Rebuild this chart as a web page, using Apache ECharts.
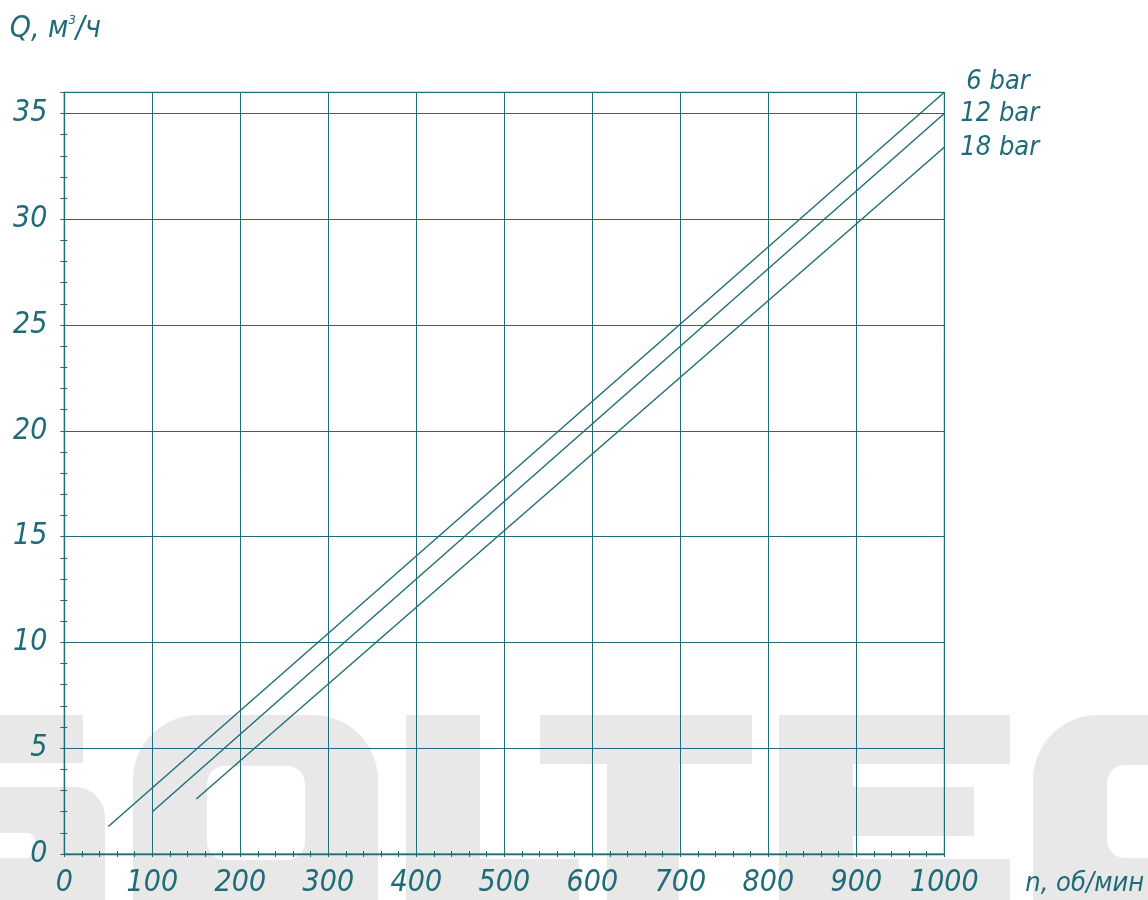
<!DOCTYPE html>
<html>
<head>
<meta charset="utf-8">
<script src="https://cdn.jsdelivr.net/npm/echarts@6/dist/echarts.min.js"></script>
<style>
html,body{margin:0;padding:0;background:#fff;}
#chart{width:1148px;height:900px;}
</style>
</head>
<body>
<div id="chart"></div>
<script>
// ---- data ----
const seriesNames = ['6 bar', '12 bar', '18 bar'];
const rpm6 = [50, 1000];
const flow6 = [1.3, 36.0];
const rpm12 = [100, 1000];
const flow12 = [2.0, 35.0];
const rpm18 = [150, 1000];
const flow18 = [2.6, 33.4];
const xTicks = [0, 100, 200, 300, 400, 500, 600, 700, 800, 900, 1000];
const yTicks = [0, 5, 10, 15, 20, 25, 30, 35];

const C = '#1f6b78';
const FONT = "'DejaVu Sans Condensed', Roboto, sans-serif";
const WM = '#e8e8e8';

function pairs(xs, ys) { return xs.map((x, i) => [x, ys[i]]); }

// watermark (decoration, letters S O L T E C)
function rect(x, y, w, h, r, fill) {
  return { type: 'rect', z: -10, silent: true, shape: { x, y, width: w, height: h, r: r || 0 }, style: { fill: fill || WM } };
}
const wm = [
  rect(-20, 715, 103, 48),
  rect(-20, 787, 125, 200, [0, 30, 0, 0]),
  rect(-20, 833, 55, 25, [0, 8, 8, 0], '#fff'),
  rect(133, 715, 245, 300, 65),
  rect(207, 766, 98, 94, 18, '#fff'),
  rect(406, 715, 74, 300),
  rect(406, 859, 173, 200),
  rect(540, 715, 212, 49),
  rect(607, 715, 72, 300),
  rect(779, 715, 74, 300),
  rect(779, 715, 231, 49),
  rect(779, 787, 195, 49),
  rect(779, 859, 231, 200),
  rect(1033, 715, 300, 300, 65),
  rect(1107, 765, 250, 93, [18, 0, 0, 18], '#fff')
];

const labelStyle = { color: C, fontFamily: FONT, fontStyle: 'italic', fontWeight: 300, fontSize: 30 };

const chart = echarts.init(document.getElementById('chart'), null, { renderer: 'canvas' });
const grid = { left: 64.3, right: 203.7, top: 92.3, bottom: 46, outerBoundsMode: 'none', containLabel: false, show: true, borderColor: C, borderWidth: 1, backgroundColor: 'transparent' };

const baseX = {
  type: 'value', min: 0, max: 1000, interval: 100,
  axisLine: { show: true, lineStyle: { color: C, width: 1.3 } },
};
const baseY = {
  type: 'value', min: 0, max: 36, interval: 5,
  axisLine: { show: true, lineStyle: { color: C, width: 1.3 } },
};

const offsets = [[22, -10], [16, 1], [16, 1]];
const datas = [pairs(rpm6, flow6), pairs(rpm12, flow12), pairs(rpm18, flow18)];

chart.setOption({
  animation: false,
  backgroundColor: '#fff',
  graphic: wm,
  grid: grid,
  xAxis: [
    Object.assign({}, baseX, {
      position: 'bottom',
      name: 'n, об/мин',
      nameLocation: 'end',
      nameGap: 81,
      nameTextStyle: Object.assign({}, labelStyle, { fontSize: 27, verticalAlign: 'top', padding: [16, 0, 0, 0] }),
      axisTick: { show: true, length: 3, lineStyle: { color: C } },
      minorTick: { show: true, splitNumber: 5, length: 3, lineStyle: { color: C } },
      axisLabel: Object.assign({}, labelStyle, { margin: 14, formatter: v => xTicks.includes(v) ? String(v) : '' }),
      splitLine: { show: true, lineStyle: { color: C, width: 1 } }
    }),
    Object.assign({}, baseX, {
      position: 'bottom',
      axisLine: { show: false },
      axisTick: { show: true, inside: true, length: 3, lineStyle: { color: C } },
      minorTick: { show: true, splitNumber: 5, length: 3, lineStyle: { color: C } },
      axisLabel: { show: false },
      splitLine: { show: false }
    })
  ],
  yAxis: [
    Object.assign({}, baseY, {
      position: 'left',
      name: '{a|Q, м}{s|3}{a|/ч}',
      nameLocation: 'end',
      nameGap: 48,
      nameTextStyle: {
        align: 'center', padding: [0, 18, 0, 0],
        rich: {
          a: Object.assign({}, labelStyle, { fontSize: 30 }),
          s: Object.assign({}, labelStyle, { fontSize: 13, verticalAlign: 'top', padding: [0, 0, 14, 0] })
        }
      },
      axisTick: { show: true, length: 4, lineStyle: { color: C } },
      minorTick: { show: true, splitNumber: 5, length: 4, lineStyle: { color: C } },
      axisLabel: Object.assign({}, labelStyle, { margin: 17, formatter: v => yTicks.includes(v) ? String(v) : '' }),
      splitLine: { show: true, lineStyle: { color: C, width: 1 } }
    }),
    Object.assign({}, baseY, {
      position: 'left',
      axisLine: { show: false },
      axisTick: { show: true, inside: true, length: 3, lineStyle: { color: C } },
      minorTick: { show: true, splitNumber: 5, length: 3, lineStyle: { color: C } },
      axisLabel: { show: false },
      splitLine: { show: false }
    })
  ],
  series: seriesNames.map((name, i) => ({
    name: name,
    type: 'line',
    xAxisIndex: 0, yAxisIndex: 0,
    data: datas[i],
    symbol: 'none',
    clip: false,
    lineStyle: { color: C, width: 1.4 },
    endLabel: Object.assign({ show: true, formatter: '{a}', distance: 0, offset: offsets[i] }, labelStyle, { fontSize: 27 })
  }))
});
</script>
</body>
</html>
